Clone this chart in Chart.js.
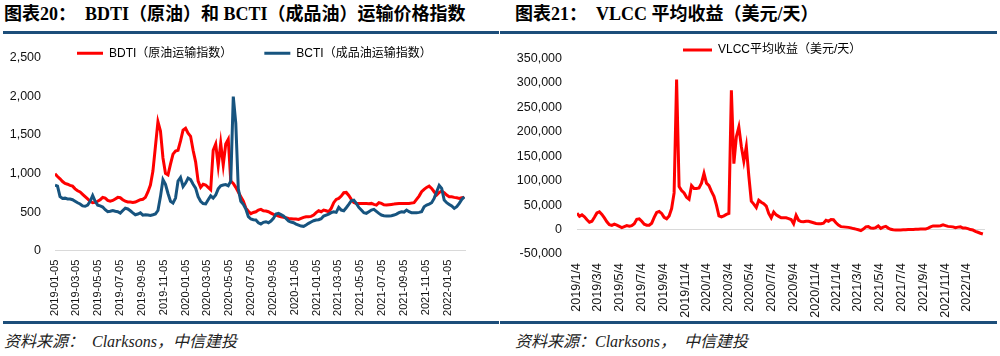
<!DOCTYPE html>
<html><head><meta charset="utf-8">
<script src="https://cdn.jsdelivr.net/npm/chart.js@4.4.1/dist/chart.umd.min.js"></script>
<style>
html,body{margin:0;padding:0;background:#fff;}
body{width:1000px;height:356px;position:relative;overflow:hidden;}
.title{position:absolute;top:4px;font:bold 18px 'Liberation Serif','Noto Sans CJK SC',serif;color:#000;white-space:pre;line-height:20px;}
.rule{position:absolute;height:3px;background:#1d4e7a;}
.src{position:absolute;top:333px;font:italic 16px 'Liberation Serif','Noto Sans CJK SC',serif;color:#222;white-space:pre;line-height:18px;}
canvas{position:absolute;top:36px;}
</style></head>
<body>
<div class="title" style="left:4px">图表20：  BDTI（原油）和 BCTI（成品油）运输价格指数</div>
<div class="title" style="left:515px">图表21：  VLCC 平均收益（美元/天）</div>
<div class="rule" style="left:3px;width:496px;top:31px"></div>
<div class="rule" style="left:500px;width:497px;top:31px"></div>
<canvas id="c1" width="500" height="285" style="left:0px"></canvas>
<canvas id="c2" width="500" height="285" style="left:500px"></canvas>
<div class="rule" style="left:3px;width:496px;top:321px"></div>
<div class="rule" style="left:500px;width:497px;top:321px"></div>
<div class="src" style="left:4px">资料来源：  Clarksons，中信建投</div>
<div class="src" style="left:515px">资料来源：Clarksons，  中信建投</div>
<script>
// ---- data ----
const bdtiStartDate = '2019-01-05';   // weekly series
const vlccStartDate = '2019/1/4';     // weekly series
const bdtiLabel = 'BDTI（原油运输指数）';
const bctiLabel = 'BCTI（成品油运输指数）';
const vlccLabel = 'VLCC平均收益（美元/天）';

const bdtiValues = [
 995,960,930,895,870,860,845,835,800,775,
 760,730,700,670,640,620,625,640,660,690,
 680,650,640,650,670,690,685,660,640,630,
 630,625,630,645,660,665,690,760,850,1030,
 1350,1670,1550,1200,1000,980,1120,1250,1290,1300,
 1420,1560,1585,1520,1480,1300,1150,900,820,860,
 850,820,790,1300,1380,1100,1390,1110,1380,1440,
 900,870,820,760,700,640,551,510,480,495,
 504,526,535,517,513,504,487,470,461,448,
 440,431,427,418,414,410,410,405,418,431,
 440,440,444,461,492,517,504,526,517,504,
 547,621,664,677,707,750,754,715,664,625,
 612,612,612,612,612,608,612,599,590,621,
 612,595,590,595,599,603,608,612,612,612,
 612,612,616,621,664,707,763,793,819,836,
 806,763,720,754,771,750,720,698,698,690,
 685,677,685,690
];
const bctiValues = [
 850,835,700,675,680,670,668,660,640,620,
 605,580,575,590,640,715,640,590,580,565,
 530,505,510,520,510,505,487,520,551,540,
 517,490,465,475,490,460,465,462,457,465,
 475,520,700,920,860,740,640,616,681,900,
 948,830,875,940,920,860,810,700,640,610,
 605,660,710,680,720,800,840,850,855,840,
 900,1994,1650,800,640,600,540,440,410,400,
 397,362,345,367,375,362,384,418,474,483,
 466,448,418,384,371,362,345,332,319,315,
 332,354,371,388,397,401,414,448,461,474,
 492,504,496,560,526,517,556,599,647,655,
 612,560,526,492,483,504,526,535,509,483,
 461,453,448,448,453,461,474,492,504,500,
 526,504,492,492,492,496,504,569,590,603,
 621,677,763,845,806,655,621,599,578,547,
 569,612,664,698
];
const vlccValues = [
 33500,27000,30000,26000,20000,15000,17000,25000,34000,36500,
 31000,24000,16000,10000,8500,11000,9000,6500,4000,6000,
 8000,7000,8000,12000,21000,22000,17000,11000,9000,9000,
 13000,25000,35000,37000,33000,25000,22000,28000,43000,75000,
 307000,88000,80000,75000,66000,62000,90000,84000,84000,85000,
 95000,115000,95000,90000,78000,68000,50000,28000,26000,28000,
 31000,33000,285000,135000,190000,210000,170000,140000,170000,110000,
 58000,52000,45000,60000,56000,53000,48000,33000,24000,36000,
 30000,27000,24000,24000,24000,22500,20500,12000,29000,19000,
 16500,16000,17000,17000,15500,14000,12500,12000,12000,13000,
 19000,17000,20500,20000,14000,9000,6000,5500,5000,4500,
 3500,2000,900,-500,-2000,1000,5500,6000,3000,2500,
 4000,7400,2500,5000,6500,3000,500,-500,-1000,-1000,
 -800,-500,-400,0,300,300,500,700,900,900,
 1000,3000,5500,7400,7400,7400,8000,9500,8000,6500,
 6000,5500,4000,5000,5500,3000,3000,2000,0,-1000,
 -3500,-5500,-7500,-9000
];
const leftTickLabels = ['2019-01-05','2019-03-05','2019-05-05','2019-07-05','2019-09-05','2019-11-05',
 '2020-01-05','2020-03-05','2020-05-05','2020-07-05','2020-09-05','2020-11-05',
 '2021-01-05','2021-03-05','2021-05-05','2021-07-05','2021-09-05','2021-11-05','2022-01-05'];
const rightTickLabels = ['2019/1/4','2019/3/4','2019/5/4','2019/7/4','2019/9/4','2019/11/4',
 '2020/1/4','2020/3/4','2020/5/4','2020/7/4','2020/9/4','2020/11/4',
 '2021/1/4','2021/3/4','2021/5/4','2021/7/4','2021/9/4','2021/11/4','2022/1/4'];
const leftYRange = [0, 2500, 500];
const rightYRange = [-50000, 350000, 50000];

// ---- helpers ----
const DAY = 86400000;
function dayOf(str, sep){ const p = str.split(sep).map(Number); return Date.UTC(p[0], p[1]-1, p[2]) / DAY; }
const leftBase = dayOf(bdtiStartDate, '-');
const rightBase = dayOf(vlccStartDate, '/');
function weekly(vals){ return vals.map((v,i)=>({x: i*7, y: v})); }
const leftTicks = leftTickLabels.map(s => dayOf(s,'-') - leftBase);
const rightTicks = rightTickLabels.map(s => dayOf(s,'/') - rightBase);
const fmt = v => Number(v).toLocaleString('en-US');
const FONT = "'Liberation Sans','Noto Sans CJK SC',Arial,sans-serif";

const legendPlace = {
  id: 'legendPlace',
  beforeLayout(chart){
    const L = chart.legend;
    if (L && !L._patched){
      const f = L.fit;
      L.fit = function(){ f.call(this); this.height = 0; };
      L._patched = true;
    }
  },
  afterLayout(chart, args, opts){
    const L = chart.legend; if (!L) return;
    const pad = opts.pad;
    L.left = opts.x - pad; L.right = chart.width;
    L.top = opts.y - pad - opts.fs/2; L.bottom = opts.y + 15;
  }
};
function legendLabels(chart){
  const items = Chart.defaults.plugins.legend.labels.generateLabels(chart);
  items.forEach(it => { it.lineWidth = 0; it.fillStyle = it.strokeStyle; });
  return items.sort((a,b)=>a.datasetIndex-b.datasetIndex);
}

function makeChart(id, datasets, cfg){
  return new Chart(document.getElementById(id), {
    type: 'line',
    data: { datasets },
    plugins: [legendPlace],
    options: {
      responsive: false, animation: false, events: [],
      layout: { padding: { top: cfg.top, right: cfg.right, left: 0, bottom: 0 } },
      elements: { point: { radius: 0 }, line: { tension: 0, borderWidth: 3 } },
      plugins: {
        tooltip: { enabled: false },
        legend: { display: true, position: 'top', align: 'start',
          labels: { boxWidth: cfg.boxW, boxHeight: 3, padding: cfg.legPad, color: '#000',
            font: { family: FONT, size: 12 }, generateLabels: legendLabels } },
        legendPlace: { x: cfg.legX, y: cfg.legY, pad: cfg.legPad, fs: 12 }
      },
      scales: {
        x: { type: 'linear', min: 0, max: cfg.xMax,
          afterBuildTicks: s => { s.ticks = cfg.ticks.map(v => ({ value: v })); },
          afterFit: s => { s.height = cfg.xH; },
          grid: { display: false, drawTicks: false },
          border: { display: cfg.xBorder, color: '#d9d9d9', width: 1 },
          ticks: { autoSkip: false, minRotation: 90, maxRotation: 90, padding: 9, color: '#111',
            font: { family: FONT, size: cfg.xFont },
            callback: v => { const k = cfg.ticks.indexOf(v); return k >= 0 ? cfg.labels[k] : ''; } } },
        y: { min: cfg.y[0], max: cfg.y[1],
          afterFit: s => { s.width = cfg.yW; },
          border: { display: false },
          grid: { drawTicks: false, lineWidth: 1,
            color: c => (cfg.zeroGrid && c.tick && c.tick.value === 0) ? '#d9d9d9' : 'rgba(0,0,0,0)' },
          ticks: { stepSize: cfg.y[2], padding: cfg.yPad, color: '#111',
            font: { family: FONT, size: 12.5 }, callback: v => fmt(v) } }
      }
    }
  });
}

makeChart('c1', [
  { label: bdtiLabel, data: weekly(bdtiValues), borderColor: '#ff0000', backgroundColor: '#ff0000', order: 1 },
  { label: bctiLabel, data: weekly(bctiValues), borderColor: '#17547f', backgroundColor: '#17547f', order: 0 }
], { top: 21.3, right: 35, xMax: 1143, ticks: leftTicks, labels: leftTickLabels, xH: 70.3, xBorder: true,
     xFont: 11, y: leftYRange, yW: 55, yPad: 14, zeroGrid: false, boxW: 26, legPad: 32, legX: 77, legY: 17.3 });

makeChart('c2', [
  { label: vlccLabel, data: weekly(vlccValues), borderColor: '#ff0000', backgroundColor: '#ff0000' }
], { top: 14, right: 15, xMax: 1147, ticks: rightTicks, labels: rightTickLabels, xH: 67, xBorder: false,
     xFont: 12.5, y: rightYRange, yW: 77, yPad: 15, zeroGrid: true, boxW: 29, legPad: 10, legX: 183, legY: 14 });
</script>
</body></html>
